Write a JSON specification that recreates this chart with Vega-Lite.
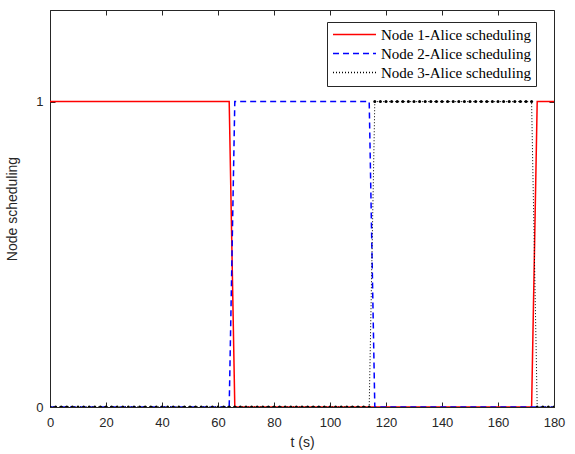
{
  "$schema": "https://vega.github.io/schema/vega-lite/v6.json",
  "autosize": {"type": "none"},
  "padding": {"left": 50, "top": 10, "right": 21, "bottom": 47},
  "width": 504,
  "height": 397,
  "background": "white",
  "config": {
    "view": {"stroke": "#262626", "strokeWidth": 1},
    "axis": {
      "labelFont": "Liberation Sans", "labelFontSize": 13, "labelColor": "#262626",
      "titleFont": "Liberation Sans", "titleFontSize": 14, "titleFontWeight": "normal", "titleColor": "#262626",
      "domainColor": "#262626", "tickColor": "#262626", "grid": false, "tickSize": -5, "labelFlush": false
    }
  },
  "datasets": {
    "lines": [
      {"t": 0, "v": 1, "series": "Node 1-Alice scheduling"},
      {"t": 64, "v": 1, "series": "Node 1-Alice scheduling"},
      {"t": 66, "v": 0, "series": "Node 1-Alice scheduling"},
      {"t": 172, "v": 0, "series": "Node 1-Alice scheduling"},
      {"t": 174, "v": 1, "series": "Node 1-Alice scheduling"},
      {"t": 180, "v": 1, "series": "Node 1-Alice scheduling"},
      {"t": 0, "v": 0, "series": "Node 2-Alice scheduling"},
      {"t": 64, "v": 0, "series": "Node 2-Alice scheduling"},
      {"t": 66, "v": 1, "series": "Node 2-Alice scheduling"},
      {"t": 114, "v": 1, "series": "Node 2-Alice scheduling"},
      {"t": 116, "v": 0, "series": "Node 2-Alice scheduling"},
      {"t": 180, "v": 0, "series": "Node 2-Alice scheduling"}
    ],
    "node3": [
      {"t": 0, "v": 0}, {"t": 2, "v": 0}, {"t": 4, "v": 0}, {"t": 6, "v": 0}, {"t": 8, "v": 0},
      {"t": 10, "v": 0}, {"t": 12, "v": 0}, {"t": 14, "v": 0}, {"t": 16, "v": 0}, {"t": 18, "v": 0},
      {"t": 20, "v": 0}, {"t": 22, "v": 0}, {"t": 24, "v": 0}, {"t": 26, "v": 0}, {"t": 28, "v": 0},
      {"t": 30, "v": 0}, {"t": 32, "v": 0}, {"t": 34, "v": 0}, {"t": 36, "v": 0}, {"t": 38, "v": 0},
      {"t": 40, "v": 0}, {"t": 42, "v": 0}, {"t": 44, "v": 0}, {"t": 46, "v": 0}, {"t": 48, "v": 0},
      {"t": 50, "v": 0}, {"t": 52, "v": 0}, {"t": 54, "v": 0}, {"t": 56, "v": 0}, {"t": 58, "v": 0},
      {"t": 60, "v": 0}, {"t": 62, "v": 0}, {"t": 64, "v": 0}, {"t": 66, "v": 0}, {"t": 68, "v": 0},
      {"t": 70, "v": 0}, {"t": 72, "v": 0}, {"t": 74, "v": 0}, {"t": 76, "v": 0}, {"t": 78, "v": 0},
      {"t": 80, "v": 0}, {"t": 82, "v": 0}, {"t": 84, "v": 0}, {"t": 86, "v": 0}, {"t": 88, "v": 0},
      {"t": 90, "v": 0}, {"t": 92, "v": 0}, {"t": 94, "v": 0}, {"t": 96, "v": 0}, {"t": 98, "v": 0},
      {"t": 100, "v": 0}, {"t": 102, "v": 0}, {"t": 104, "v": 0}, {"t": 106, "v": 0}, {"t": 108, "v": 0},
      {"t": 110, "v": 0}, {"t": 112, "v": 0}, {"t": 114, "v": 0}, {"t": 116, "v": 1}, {"t": 118, "v": 1},
      {"t": 120, "v": 1}, {"t": 122, "v": 1}, {"t": 124, "v": 1}, {"t": 126, "v": 1}, {"t": 128, "v": 1},
      {"t": 130, "v": 1}, {"t": 132, "v": 1}, {"t": 134, "v": 1}, {"t": 136, "v": 1}, {"t": 138, "v": 1},
      {"t": 140, "v": 1}, {"t": 142, "v": 1}, {"t": 144, "v": 1}, {"t": 146, "v": 1}, {"t": 148, "v": 1},
      {"t": 150, "v": 1}, {"t": 152, "v": 1}, {"t": 154, "v": 1}, {"t": 156, "v": 1}, {"t": 158, "v": 1},
      {"t": 160, "v": 1}, {"t": 162, "v": 1}, {"t": 164, "v": 1}, {"t": 166, "v": 1}, {"t": 168, "v": 1},
      {"t": 170, "v": 1}, {"t": 172, "v": 1}, {"t": 174, "v": 0}, {"t": 176, "v": 0}, {"t": 178, "v": 0},
      {"t": 180, "v": 0}
    ]
  },
  "layer": [
    {
      "layer": [
        {
          "data": {"name": "lines"},
          "mark": {"type": "line", "strokeWidth": 1.5, "clip": true},
          "encoding": {
            "x": {"field": "t", "type": "quantitative", "title": "t (s)",
                  "scale": {"domain": [0, 180], "nice": false},
                  "axis": {"values": [0, 20, 40, 60, 80, 100, 120, 140, 160, 180], "labelPadding": 14, "titlePadding": 6}},
            "y": {"field": "v", "type": "quantitative", "title": "Node scheduling",
                  "scale": {"domain": [0, 1.3], "nice": false, "zero": false},
                  "axis": {"values": [0, 1], "format": "d", "labelPadding": 12, "titlePadding": 16}},
            "color": {"field": "series", "type": "nominal",
                      "scale": {"domain": ["Node 1-Alice scheduling", "Node 2-Alice scheduling", "Node 3-Alice scheduling"],
                                "range": ["#ff0000", "#0000ff", "#000000"]},
                      "legend": {"title": null, "orient": "none", "legendX": 277, "legendY": 12,
                                 "fillColor": "white", "strokeColor": "#262626", "padding": 5,
                                 "labelFont": "Liberation Serif", "labelFontSize": 15, "labelColor": "#000000",
                                 "symbolType": "stroke", "symbolSize": 1849, "symbolStrokeWidth": 1.5,
                                 "clipHeight": 15, "rowPadding": 3, "labelOffset": 4, "labelLimit": 300}},
            "strokeDash": {"field": "series", "type": "nominal",
                           "scale": {"domain": ["Node 1-Alice scheduling", "Node 2-Alice scheduling", "Node 3-Alice scheduling"],
                                     "range": [[1, 0], [6, 4], [1, 2]]},
                           "legend": {"title": null, "orient": "none", "legendX": 277, "legendY": 12}}
          }
        },
        {
          "data": {"name": "node3"},
          "transform": [{"calculate": "'Node 3-Alice scheduling'", "as": "series"}],
          "mark": {"type": "line", "strokeWidth": 1, "clip": true},
          "encoding": {
            "x": {"field": "t", "type": "quantitative"},
            "y": {"field": "v", "type": "quantitative"},
            "color": {"field": "series", "type": "nominal"},
            "strokeDash": {"field": "series", "type": "nominal"}
          }
        }
      ]
    },
    {
      "data": {"name": "node3"},
      "mark": {"type": "point", "filled": true, "size": 9, "color": "#000000", "opacity": 1, "clip": true},
      "encoding": {
        "x": {"field": "t", "type": "quantitative",
              "scale": {"domain": [0, 180], "nice": false},
              "axis": {"orient": "top", "labels": false, "title": null, "values": [0, 20, 40, 60, 80, 100, 120, 140, 160, 180], "domain": false}},
        "y": {"field": "v", "type": "quantitative",
              "scale": {"domain": [0, 1.3], "nice": false, "zero": false},
              "axis": {"orient": "right", "labels": false, "title": null, "values": [0, 1], "domain": false}}
      }
    }
  ],
  "resolve": {"scale": {"x": "independent", "y": "independent"}}
}
